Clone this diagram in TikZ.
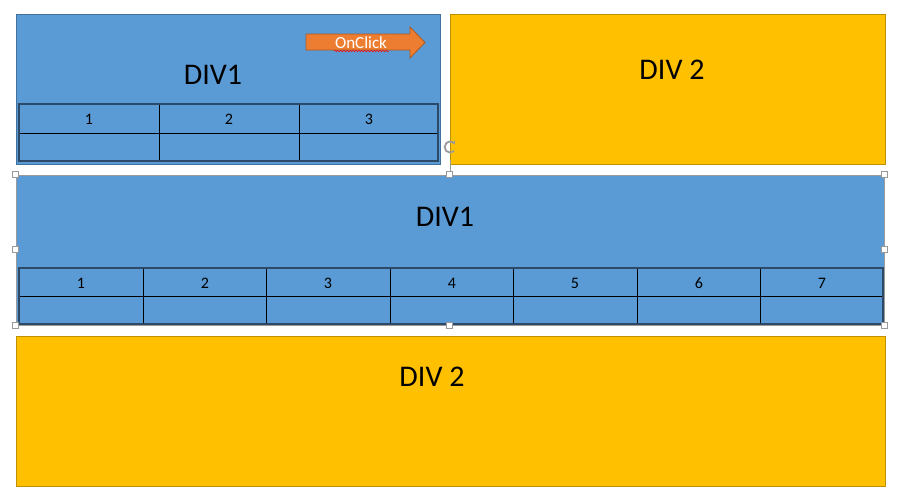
\documentclass[tikz,border=0pt]{standalone}
\usepackage{fontspec}
\setmainfont{Carlito}
\usetikzlibrary{decorations.pathmorphing,arrows.meta}
\definecolor{divblue}{HTML}{5B9BD5}
\definecolor{blueedge}{HTML}{41719C}
\definecolor{tabedge}{HTML}{2C4A68}
\definecolor{divgold}{HTML}{FFC000}
\definecolor{goldedge}{HTML}{BF9000}
\definecolor{arroworange}{HTML}{ED7D31}
\definecolor{arrowedge}{HTML}{AE5A21}
\definecolor{selgray}{HTML}{9A9A9A}
\tikzset{
  bluebox/.style={draw=blueedge, fill=divblue, line width=0.8pt},
  goldbox/.style={draw=goldedge, fill=divgold, line width=0.8pt},
  divlabel/.style={font=\fontsize{30}{32}\selectfont, text=black},
  cellnum/.style={font=\fontsize{16}{18}\selectfont, text=black, anchor=base},
  tabouter/.style={draw=tabedge, line width=1.4pt},
  tabinner/.style={draw=black, line width=0.8pt},
  handle/.style={draw=selgray, fill=white, line width=0.6pt, minimum size=6pt, inner sep=0pt, rectangle},
}
\begin{document}
\begin{tikzpicture}[x=1pt,y=-1pt]
\useasboundingbox (0,0) rectangle (901,498);
% top-left DIV1
\draw[bluebox] (16,14) rectangle (440,164);
\node[divlabel] (d1a) at (213,75) {DIV1};
\draw[tabinner] (19,133) -- (438,133) (159,104) -- (159,161) (299,104) -- (299,161);
\draw[tabouter] (19,104) rectangle (438,161);
\foreach \x/\n in {89/1,229/2,369/3} \node[cellnum] (ta\n) at (\x,124.5) {\n};
% OnClick arrow
\draw[draw=arrowedge, fill=arroworange, line width=0.8pt]
  (306,34) -- (410,34) -- (410,27) -- (425,42.5) -- (410,58) -- (410,50) -- (306,50) -- cycle;
\node[text=white, font=\fontsize{17}{19}\selectfont] (onclick) at (361,43) {OnClick};
\draw[red, line width=0.5pt, decorate, decoration={snake, amplitude=0.8pt, segment length=3pt}]
  (334,51) -- (389,51);
% top-right DIV 2
\draw[goldbox] (450,14) rectangle (885,164);
\node[divlabel] (d2a) at (672,70) {DIV 2};
% middle DIV1 (selected)
\draw[fill=divblue, draw=selgray, line width=0.8pt] (16,175) rectangle (884,325);
\node[divlabel] (d1b) at (445,217) {DIV1};
\draw[tabinner] (19,296) -- (883,296);
\foreach \x in {143,266,390,513,637,760} \draw[tabinner] (\x,268) -- (\x,324);
\draw[tabouter] (19,268) rectangle (883,324);
\foreach \x/\n in {81/1,205/2,328/3,452/4,575/5,699/6,822/7} \node[cellnum] (tb\n) at (\x,288.5) {\n};
% rotation handle
\coordinate (rot) at (450,155);
\draw[selgray, line width=0.7pt] (450,160) -- (450,174);
\draw[selgray, line width=1.8pt, -{Stealth[length=3.5pt,width=4.5pt]}] (454,151) arc[start angle=45, end angle=330, radius=5.5];
% selection handles
\foreach \p/\q [count=\i] in {15/174,449/174,884/174,15/249,884/249,15/325,449/325,884/325}
  \node[handle] (h\i) at (\p,\q) {};
% bottom DIV 2
\draw[goldbox] (16,336) rectangle (885,486);
\node[divlabel] (d2b) at (432,377) {DIV 2};
\end{tikzpicture}
\end{document}
